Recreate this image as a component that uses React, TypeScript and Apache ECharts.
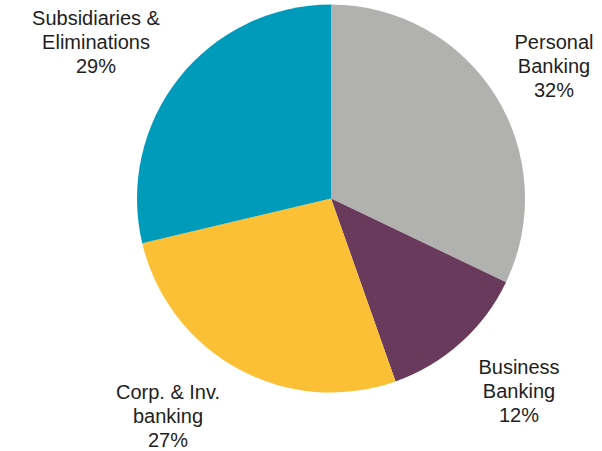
import React, { useEffect, useRef } from "react";
import * as echarts from "echarts";

const categories = ["Personal\nBanking", "Business\nBanking", "Corp. & Inv.\nbanking", "Subsidiaries &\nEliminations"];
// slice sizes
const values = [32.1, 12.5, 26.7, 28.7];
// percentages as printed in the labels
const percentLabels = ["32%", "12%", "27%", "29%"];
const colors = ["#B1B2AF", "#693A5B", "#FBC035", "#009BBB"];
const labelPos = [
  [554, 66],
  [519, 391],
  [168, 416],
  [96, 42],
];

export default function App() {
  const ref = useRef<HTMLDivElement>(null);
  useEffect(() => {
    if (!ref.current) return;
    const chart = echarts.init(ref.current, null, { renderer: "svg" });
    chart.setOption({
      animation: false,
      backgroundColor: "#ffffff",
      series: [
        {
          type: "pie",
          center: [331, 198.5],
          radius: [0, 194],
          startAngle: 90,
          clockwise: true,
          data: categories.map((c, i) => ({
            name: c,
            value: values[i],
            itemStyle: { color: colors[i] },
          })),
          label: {
            show: true,
            position: "outside",
            formatter: (p: any) => `${p.name}\n${percentLabels[p.dataIndex]}`,
            fontFamily: "Liberation Sans, Arial, sans-serif",
            fontSize: 20,
            lineHeight: 24,
            color: "#1e1e1e",
            align: "center",
            overflow: "none",
            width: 200,
          },
          labelLine: { show: false },
          labelLayout: (params: any) => ({
            x: labelPos[params.dataIndex][0],
            y: labelPos[params.dataIndex][1],
            align: "center",
            verticalAlign: "middle",
          }),
          emphasis: { disabled: true },
        },
      ],
    });
    return () => chart.dispose();
  }, []);
  return <div ref={ref} style={{ width: 602, height: 451, position: "absolute", left: 0, top: 0 }} />;
}
